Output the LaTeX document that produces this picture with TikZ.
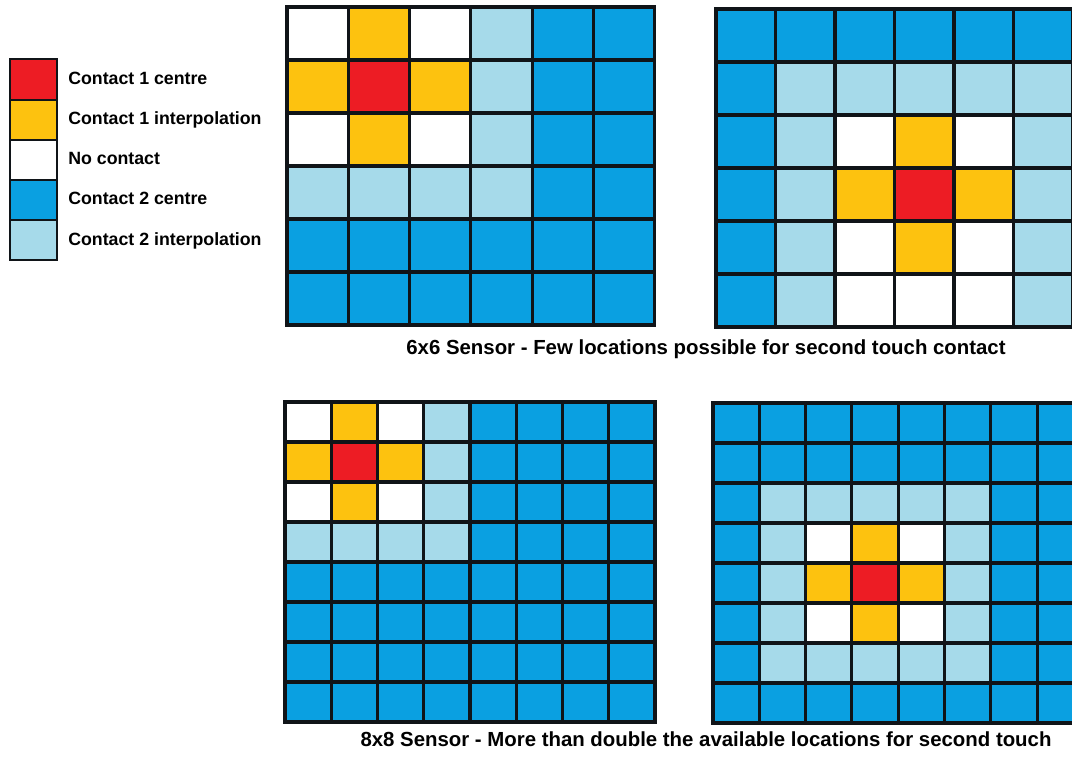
\documentclass[tikz,border=0pt]{standalone}
\usepackage{fontspec}
\setmainfont{Liberation Sans}
\usetikzlibrary{positioning}
\definecolor{ink}{HTML}{101418}
\definecolor{cellR}{HTML}{ED1C24}
\definecolor{cellY}{HTML}{FDC20F}
\definecolor{cellW}{HTML}{FFFFFF}
\definecolor{cellB}{HTML}{0AA0E1}
\definecolor{cellL}{HTML}{A6DAEA}

\begin{document}
\begin{tikzpicture}[x=0.2mm,y=-0.2mm,
  cell/.style={draw=ink,line width=1.8pt},
  key/.style={draw=ink,line width=1.1pt,minimum width=0.94cm,minimum height=0.804cm,inner sep=0pt},
  lbl/.style={font=\fontsize{10.1}{12}\selectfont\bfseries,inner sep=0pt,text depth=0pt},
  capt/.style={font=\fontsize{11.6}{14}\selectfont\bfseries,anchor=base,inner sep=0pt}]
\useasboundingbox[fill=white] (0,0) rectangle (1072,765);
\clip (0,0) rectangle (1072,765);
% legend
\foreach \c/\t [count=\i] in {R/Contact 1 centre,Y/Contact 1 interpolation,W/No contact,B/Contact 2 centre,L/Contact 2 interpolation} {
  \node[key,fill=cell\c] (k\i) at (33.5,39.3+40.2*\i) {};
  \node[lbl,right=0.2cm of k\i,yshift=0.03cm] (t\i) {\t};
}
% 6x6, contact 1 in the corner
\begin{scope}[shift={(287,7)}]
\foreach \cells [count=\r from 0] in {{W,Y,W,L,B,B},{Y,R,Y,L,B,B},{W,Y,W,L,B,B},{L,L,L,L,B,B},{B,B,B,B,B,B},{B,B,B,B,B,B}}
  \foreach \c [count=\k from 0] in \cells
    \filldraw[cell,fill=cell\c] (\k*61.3,\r*53) rectangle ++(61.3,53);
\end{scope}
% 6x6, contact 1 in the middle
\begin{scope}[shift={(716,9)}]
\foreach \cells [count=\r from 0] in {{B,B,B,B,B,B},{B,L,L,L,L,L},{B,L,W,Y,W,L},{B,L,Y,R,Y,L},{B,L,W,Y,W,L},{B,L,W,W,W,L}}
  \foreach \c [count=\k from 0] in \cells
    \filldraw[cell,fill=cell\c] (\k*59.5,\r*53) rectangle ++(59.5,53);
\end{scope}
\node[capt] (cap6) at (706,355) {6x6 Sensor - Few locations possible for second touch contact};
% 8x8, contact 1 in the corner
\begin{scope}[shift={(285,402)}]
\foreach \cells [count=\r from 0] in {{W,Y,W,L,B,B,B,B},{Y,R,Y,L,B,B,B,B},{W,Y,W,L,B,B,B,B},{L,L,L,L,B,B,B,B},{B,B,B,B,B,B,B,B},{B,B,B,B,B,B,B,B},{B,B,B,B,B,B,B,B},{B,B,B,B,B,B,B,B}}
  \foreach \c [count=\k from 0] in \cells
    \filldraw[cell,fill=cell\c] (\k*46.25,\r*40) rectangle ++(46.25,40);
\end{scope}
% 8x8, contact 1 in the middle
\begin{scope}[shift={(713,403)}]
\foreach \cells [count=\r from 0] in {{B,B,B,B,B,B,B,B},{B,B,B,B,B,B,B,B},{B,L,L,L,L,L,B,B},{B,L,W,Y,W,L,B,B},{B,L,Y,R,Y,L,B,B},{B,L,W,Y,W,L,B,B},{B,L,L,L,L,L,B,B},{B,B,B,B,B,B,B,B}}
  \foreach \c [count=\k from 0] in \cells
    \filldraw[cell,fill=cell\c] (\k*46.3,\r*40) rectangle ++(46.3,40);
\end{scope}
\node[capt] (cap8) at (706,746) {8x8 Sensor - More than double the available locations for second touch};
\end{tikzpicture}
\end{document}
